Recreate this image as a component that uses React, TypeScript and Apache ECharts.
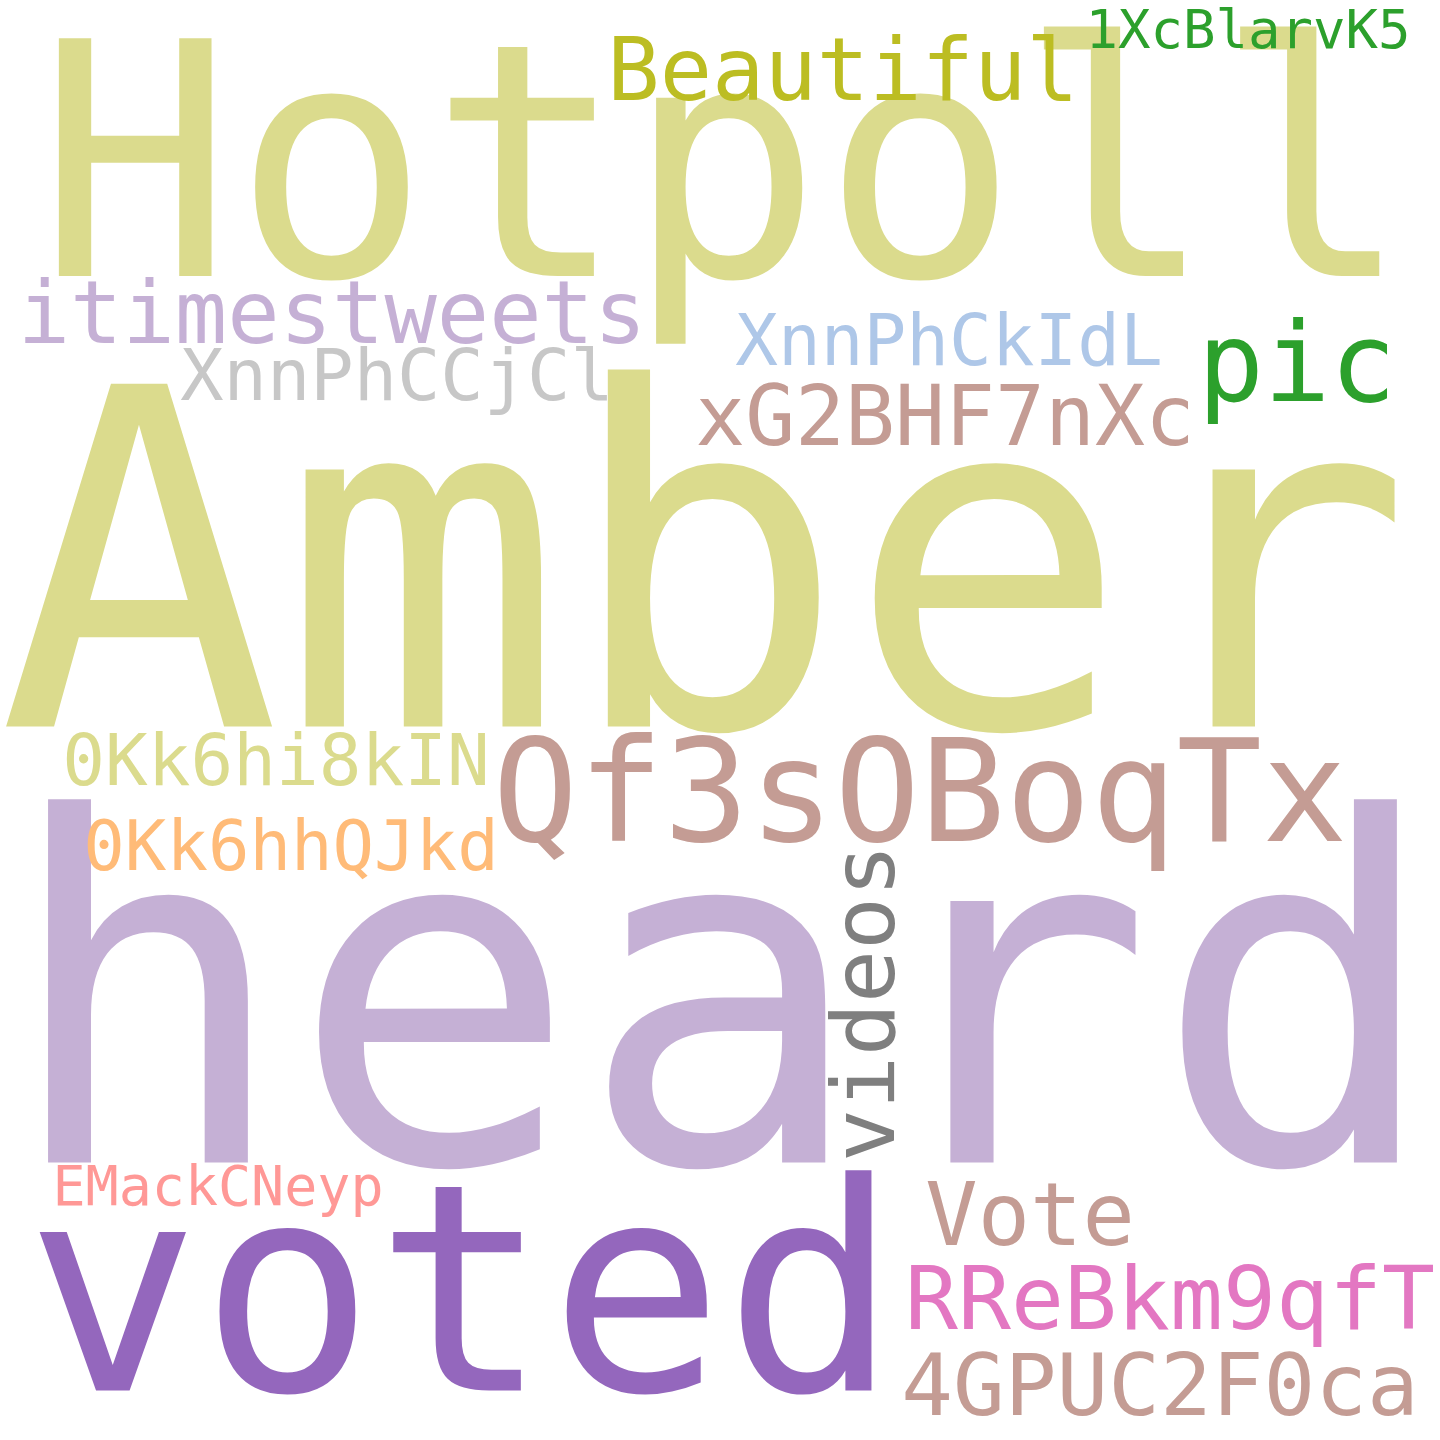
import React, { useEffect, useRef } from 'react';
import * as echarts from 'echarts';

// word cloud: each word sits at its centre (x, y) in a 1440 x 1440 data space
const words = [
  'Amber', 'Hotpoll', 'heard', 'voted', 'Qf3sOBoqTx', 'videos', 'Beautiful', '1XcBlarvK5', 'pic',
  'itimestweets', 'XnnPhCCjCl', 'XnnPhCkIdL', 'xG2BHF7nXc', '0Kk6hi8kIN', '0Kk6hhQJkd',
  'EMackCNeyp', 'Vote', 'RReBkm9qfT', '4GPUC2F0ca',
];
const xs = [705, 724, 722, 462, 920, 863, 843, 1248, 1297, 332, 397, 949, 945, 276, 291, 218, 1030, 1170, 1160];
const ys = [564, 163, 997, 1290, 791, 1003, 70, 29, 363, 313, 375, 340, 416, 760, 846, 1186, 1215, 1298, 1385];
const sizes = [470, 326, 478, 290, 142, 88, 87, 54, 110, 87, 72, 71, 83, 71, 69, 55, 87, 88, 86];
const colors = [
  '#dbdb8d', '#dbdb8d', '#c5b0d5', '#9467bd', '#c49c94', '#7f7f7f', '#bcbd22', '#2ca02c', '#2ca02c',
  '#c5b0d5', '#c7c7c7', '#aec7e8', '#c49c94', '#dbdb8d', '#ffbb78', '#ff9896', '#c49c94', '#e377c2', '#c49c94',
];
const rotations = [0, 0, 0, 0, 0, 90, 0, 0, 0, 0, 0, 0, 0, 0, 0, 0, 0, 0, 0];

const App: React.FC = () => {
  const chartRef = useRef<HTMLDivElement>(null);

  useEffect(() => {
    if (!chartRef.current) return undefined;
    const chart = echarts.init(chartRef.current, undefined, { renderer: 'svg' });

    const data = words.map((w, i) => ({
      name: w,
      value: [xs[i], ys[i]],
      label: {
        fontSize: sizes[i],
        color: colors[i],
        rotate: rotations[i],
      },
    }));

    chart.setOption({
      animation: false,
      backgroundColor: '#ffffff',
      grid: { left: 0, right: 0, top: 0, bottom: 0 },
      xAxis: { type: 'value', min: 0, max: 1440, show: false },
      yAxis: { type: 'value', min: 0, max: 1440, inverse: true, show: false },
      series: [
        {
          type: 'scatter',
          symbolSize: 0,
          silent: true,
          itemStyle: { color: 'transparent' },
          label: {
            show: true,
            position: 'inside',
            align: 'center',
            verticalAlign: 'middle',
            fontFamily: 'DejaVu Sans Mono',
            opacity: 1,
            formatter: '{b}',
          },
          data,
        },
      ],
    });

    return () => {
      chart.dispose();
    };
  }, []);

  return (
    <div
      ref={chartRef}
      style={{ position: 'fixed', left: 0, top: 0, width: '1440px', height: '1440px', background: '#fff' }}
    />
  );
};

export default App;
